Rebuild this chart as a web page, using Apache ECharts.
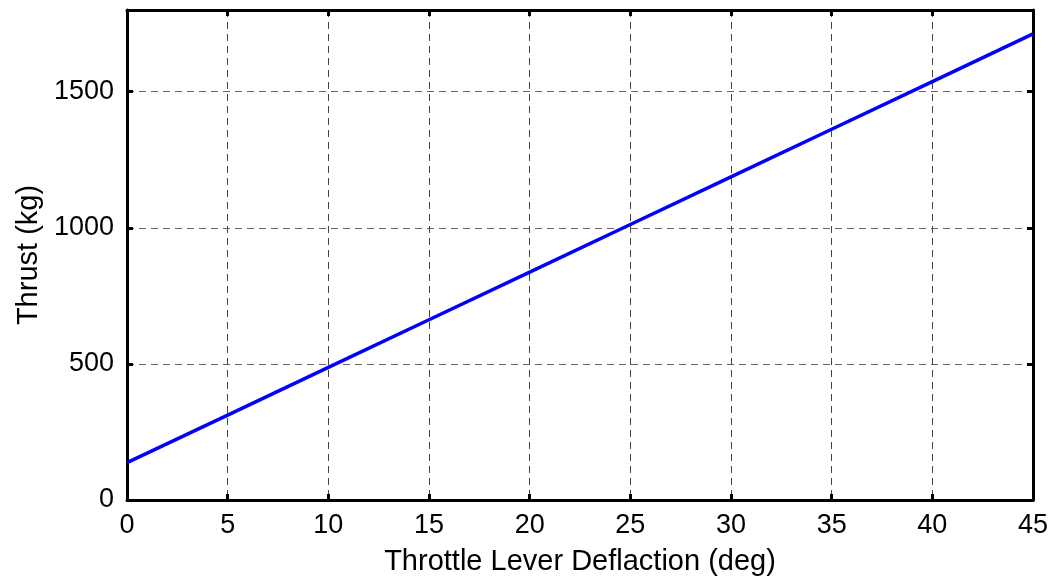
<!DOCTYPE html>
<html>
<head>
<meta charset="utf-8">
<script src="https://cdn.jsdelivr.net/npm/echarts@6/dist/echarts.min.js"></script>
<style>
html,body{margin:0;padding:0;background:#fff;}
#c{width:1060px;height:581px;}
</style>
</head>
<body>
<div id="c"></div>
<script>
// Data
const deflection = [0, 5, 10, 15, 20, 25, 30, 35, 40, 45];
const thrust = [137, 312, 487, 662, 837, 1012, 1187, 1362, 1537, 1712];
const xTicks = [0, 5, 10, 15, 20, 25, 30, 35, 40, 45];
const yTicks = [0, 500, 1000, 1500];
const xTitle = 'Throttle Lever Deflaction (deg)';
const yTitle = 'Thrust (kg)';

const font = 'Liberation Sans, Arial, sans-serif';
const chart = echarts.init(document.getElementById('c'), null, {renderer: 'canvas'});
const axisLineStyle = {color: '#000', width: 3};
const tick = {show: true, inside: true, length: 6, lineStyle: {color: '#000', width: 3}};
const split = (c) => ({show: true, lineStyle: {color: c, width: 1, type: [7, 5]}});

chart.setOption({
  animation: false,
  backgroundColor: '#fff',
  grid: {left: 127, right: 27, top: 10, bottom: 81, containLabel: false},
  xAxis: [{
    type: 'value', min: 0, max: 45, interval: 5,
    position: 'bottom',
    name: xTitle, nameLocation: 'middle', nameGap: 47,
    nameTextStyle: {fontFamily: font, fontSize: 29, color: '#000'},
    axisLine: {show: true, onZero: false, lineStyle: axisLineStyle},
    axisTick: tick,
    axisLabel: {fontFamily: font, fontSize: 27, color: '#000', margin: 12,
      formatter: v => xTicks.includes(v) ? String(v) : ''},
    splitLine: split('#444')
  }, {
    type: 'value', min: 0, max: 45, interval: 5, position: 'top',
    axisLine: {show: true, onZero: false, lineStyle: axisLineStyle},
    axisTick: tick, axisLabel: {show: false}, splitLine: {show: false}
  }],
  yAxis: [{
    type: 'value', min: 0, max: 1800, interval: 500,
    position: 'left',
    name: yTitle, nameLocation: 'middle', nameGap: 84,
    nameTextStyle: {fontFamily: font, fontSize: 29, color: '#000'},
    axisLine: {show: true, onZero: false, lineStyle: axisLineStyle},
    axisTick: tick,
    axisLabel: {fontFamily: font, fontSize: 27, color: '#000', margin: 13, showMaxLabel: false,
      formatter: v => yTicks.includes(v) ? String(v) : ''},
    splitLine: split('#666')
  }, {
    type: 'value', min: 0, max: 1800, interval: 500, position: 'right',
    axisLine: {show: true, onZero: false, lineStyle: axisLineStyle},
    axisTick: tick, axisLabel: {show: false}, splitLine: {show: false}
  }],
  series: [{
    type: 'line',
    data: deflection.map((d, i) => [d, thrust[i]]),
    showSymbol: false,
    lineStyle: {color: '#0000ff', width: 3.5},
    z: 5
  }]
});
</script>
</body>
</html>
